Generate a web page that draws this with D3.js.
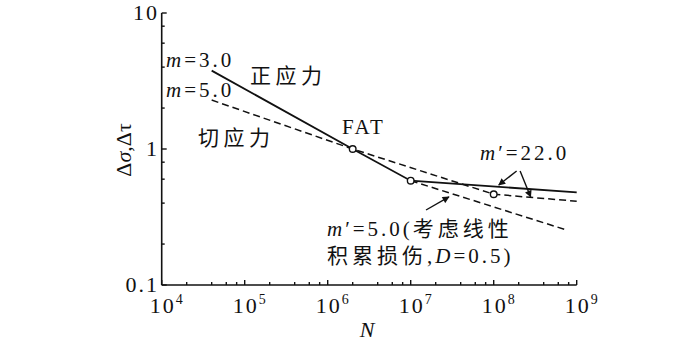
<!DOCTYPE html>
<html><head><meta charset="utf-8">
<script src="https://cdn.jsdelivr.net/npm/d3@7"></script>
<style>
body{margin:0;background:#fff;}
</style></head>
<body><svg id="c" width="700" height="343"></svg>
<script>
// data
const normalN = [4e4, 2e6, 1e7, 1e9];
const normalS = [3.77, 1.0, 0.585, 0.48];
const shearN = [4e4, 2e6, 1e8, 1e9];
const shearS = [2.29, 1.0, 0.465, 0.413];
const cumulN = [1e7, 7.5e8];
const cumulS = [0.585, 0.254];
const markerN = [2e6, 1e7, 1e8];
const markerS = [1.0, 0.585, 0.465];
const xTickExp = [4, 5, 6, 7, 8, 9];
const yTickVals = [0.1, 1, 10];
const yTickLabels = ["0.1", "1", "10"];
const minorMult = [2, 4, 6, 8];

const SERIF = "'Liberation Serif'";
const CJK = "'Noto Sans CJK SC'";

const svg = d3.select("#c");
const x = d3.scaleLog().domain([1e4, 1e9]).range([161.7, 576.7]);
const y = d3.scaleLog().domain([0.1, 10]).range([285, 13]);

function txt(parent, fam) {
  return parent.append("text").style("font-family", fam || SERIF).attr("fill", "#111");
}

// axes lines
const g = svg.append("g");
g.append("line").attr("x1", x(1e4)).attr("x2", x(1e9)).attr("y1", y(0.1)).attr("y2", y(0.1)).attr("stroke", "#111").attr("stroke-width", 1.6);
g.append("line").attr("x1", x(1e4)).attr("x2", x(1e4)).attr("y1", y(0.1)).attr("y2", y(10)).attr("stroke", "#111").attr("stroke-width", 1.6);

// x ticks
xTickExp.forEach(e => {
  const v = Math.pow(10, e);
  g.append("line").attr("x1", x(v)).attr("x2", x(v)).attr("y1", y(0.1)).attr("y2", y(0.1) - 5).attr("stroke", "#111").attr("stroke-width", 1.4);
  if (e < 9) minorMult.forEach(m => {
    g.append("line").attr("x1", x(v * m)).attr("x2", x(v * m)).attr("y1", y(0.1)).attr("y2", y(0.1) - 3).attr("stroke", "#111").attr("stroke-width", 1.4);
  });
  txt(g).attr("x", x(v) + 1).attr("y", 313).attr("text-anchor", "middle").attr("font-size", 22).attr("letter-spacing", 2).text("10");
  txt(g).attr("x", x(v) + 14).attr("y", 304).attr("font-size", 14).text(e);
});
// y ticks
yTickVals.forEach((v, i) => {
  g.append("line").attr("x1", x(1e4)).attr("x2", x(1e4) + 5).attr("y1", y(v)).attr("y2", y(v)).attr("stroke", "#111").attr("stroke-width", 1.4);
  if (v < 10) minorMult.forEach(m => {
    g.append("line").attr("x1", x(1e4)).attr("x2", x(1e4) + 3).attr("y1", y(v * m)).attr("y2", y(v * m)).attr("stroke", "#111").attr("stroke-width", 1.4);
  });
  txt(g).attr("x", 159).attr("y", y(v) + 7).attr("text-anchor", "end").attr("font-size", 22).attr("letter-spacing", 2).text(yTickLabels[i]);
});

// axis titles
txt(g).attr("x", 367).attr("y", 337).attr("text-anchor", "middle").attr("font-size", 22).attr("font-style", "italic").text("N");
const yl = txt(g).attr("transform", "translate(131,150) rotate(-90)").attr("text-anchor", "middle").attr("font-size", 22);
yl.append("tspan").text("Δ");
yl.append("tspan").attr("font-style", "italic").text("σ");
yl.append("tspan").text(",Δτ");

// lines
const line = d3.line().x(d => x(d[0])).y(d => y(d[1]));
svg.append("path").datum(normalN.map((n, i) => [n, normalS[i]])).attr("d", line).attr("fill", "none").attr("stroke", "#111").attr("stroke-width", 1.8);
svg.append("path").datum(shearN.map((n, i) => [n, shearS[i]])).attr("d", line).attr("fill", "none").attr("stroke", "#111").attr("stroke-width", 1.5).attr("stroke-dasharray", "7,4");
svg.append("path").datum(cumulN.map((n, i) => [n, cumulS[i]])).attr("d", line).attr("fill", "none").attr("stroke", "#111").attr("stroke-width", 1.5).attr("stroke-dasharray", "7,4");

// markers
svg.selectAll("circle.m").data(markerN.map((n, i) => [n, markerS[i]])).enter().append("circle")
  .attr("cx", d => x(d[0])).attr("cy", d => y(d[1])).attr("r", 3.3)
  .attr("fill", "#fff").attr("stroke", "#111").attr("stroke-width", 1.4);

// arrows (data coords)
const defs = svg.append("defs");
defs.append("marker").attr("id", "ah").attr("viewBox", "0 0 10 10").attr("refX", 9).attr("refY", 5)
  .attr("markerWidth", 9).attr("markerHeight", 7).attr("markerUnits", "userSpaceOnUse").attr("orient", "auto")
  .append("path").attr("d", "M0,0 L10,5 L0,10 Z").attr("fill", "#111");
const arrows = [
  [[1.89e8, 0.689], [1.15e8, 0.544]],
  [[2.08e8, 0.689], [2.79e8, 0.444]],
  [[1.53e7, 0.356], [2.89e7, 0.444]]
];
arrows.forEach(a => {
  svg.append("line").attr("x1", x(a[0][0])).attr("y1", y(a[0][1])).attr("x2", x(a[1][0])).attr("y2", y(a[1][1]))
    .attr("stroke", "#111").attr("stroke-width", 1.4).attr("marker-end", "url(#ah)");
});

// annotations
function mText(px, py, prime, val) {
  const t = txt(svg).attr("x", px).attr("y", py).attr("font-size", 21).attr("letter-spacing", 3);
  t.append("tspan").attr("font-style", "italic").text("m");
  t.append("tspan").text((prime ? "′" : "") + "=" + val);
  return t;
}
mText(166, 67, false, "3.0");
mText(166, 97, false, "5.0");
txt(svg, CJK).attr("x", 250).attr("y", 83).attr("font-size", 21).attr("letter-spacing", 4.5).text("正应力");
txt(svg, CJK).attr("x", 198).attr("y", 145).attr("font-size", 21).attr("letter-spacing", 4.5).text("切应力");
txt(svg).attr("x", 342).attr("y", 134).attr("font-size", 21).attr("letter-spacing", 2.5).text("FAT");
mText(480, 160, true, "22.0");
const t1 = mText(327, 236, true, "5.0(");
t1.append("tspan").style("font-family", CJK).attr("letter-spacing", 4).text("考虑线性");
const t2 = txt(svg).attr("x", 327).attr("y", 263).attr("font-size", 21);
t2.append("tspan").style("font-family", CJK).attr("letter-spacing", 4).text("积累损伤");
t2.append("tspan").attr("letter-spacing", 3).text(",");
t2.append("tspan").attr("font-style", "italic").attr("letter-spacing", 3).text("D");
t2.append("tspan").attr("letter-spacing", 3).text("=0.5)");
</script></body></html>
